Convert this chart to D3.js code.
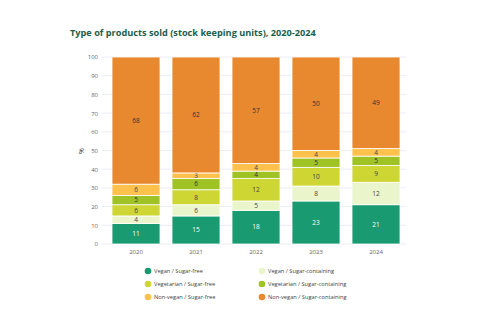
<!DOCTYPE html>
<html>
<head>
<script src="https://d3js.org/d3.v7.min.js"></script>
<style>
  body { margin: 0; background: #fff; }
  svg { display: block; font-family: "Open Sans", sans-serif; }
</style>
</head>
<body>
<div id="chart"></div>
<script>
// data
var years = ["2020", "2021", "2022", "2023", "2024"];
var seriesNames = ["Vegan / Sugar-free", "Vegan / Sugar-containing", "Vegetarian / Sugar-free",
  "Vegetarian / Sugar-containing", "Non-vegan / Sugar-free", "Non-vegan / Sugar-containing"];
var veganFree = [11, 15, 18, 23, 21];
var veganSugar = [4, 6, 5, 8, 12];
var vegetarianFree = [6, 8, 12, 10, 9];
var vegetarianSugar = [5, 6, 4, 5, 5];
var nonveganFree = [6, 3, 4, 4, 4];
var nonveganSugar = [68, 62, 57, 50, 49];
var yTicks = [0, 10, 20, 30, 40, 50, 60, 70, 80, 90, 100];

var colors = ["#1a9a70", "#eaf5cc", "#ced634", "#9fc224", "#fec24c", "#e9892f"];
var textColors = ["#ffffff", "#444", "#444", "#333", "#444", "#333"];

var allSeries = [veganFree, veganSugar, vegetarianFree, vegetarianSugar, nonveganFree, nonveganSugar];

var rows = years.map(function(y, i) {
  var r = { year: y };
  seriesNames.forEach(function(s, k) { r[s] = allSeries[k][i]; });
  return r;
});

var W = 480, H = 332;
var svg = d3.select("#chart").append("svg").attr("width", W).attr("height", H);

var x = d3.scaleBand().domain(years).range([106, 406]).paddingInner(0.2).paddingOuter(0.1);
var y = d3.scaleLinear().domain([0, 100]).range([244, 57]);

// title
svg.append("text")
  .attr("x", 70).attr("y", 36)
  .style("font-size", "9.2px").style("font-weight", "bold")
  .style("fill", "#1b5e4c")
  .text("Type of products sold (stock keeping units), 2020-2024");

// gridlines
svg.append("g").selectAll("line").data(yTicks).enter().append("line")
  .attr("x1", 102).attr("x2", 406)
  .attr("y1", function(d) { return y(d); }).attr("y2", function(d) { return y(d); })
  .style("stroke", "#e9ecf5").style("stroke-width", 1);

// y axis
var yAxis = svg.append("g").attr("transform", "translate(102,0)")
  .call(d3.axisLeft(y).tickValues(yTicks).tickSize(0).tickPadding(4));
yAxis.select(".domain").remove();
yAxis.selectAll("text").style("font-size", "6px").style("fill", "#666").style("font-family", "Open Sans, sans-serif");

svg.append("text")
  .attr("transform", "translate(84,151) rotate(-90)")
  .style("text-anchor", "middle").style("font-size", "7px").style("fill", "#444")
  .text("%");

// x axis
var xAxis = svg.append("g").attr("transform", "translate(0,244)")
  .call(d3.axisBottom(x).tickSize(0).tickPadding(6));
xAxis.select(".domain").remove();
xAxis.selectAll("text").style("font-size", "6px").style("fill", "#666").style("font-family", "Open Sans, sans-serif");

// stacked bars
var stack = d3.stack().keys(seriesNames)(rows);

var layers = svg.append("g").selectAll("g").data(stack).enter().append("g")
  .style("fill", function(d, i) { return colors[i]; });

layers.selectAll("rect").data(function(d) { return d; }).enter().append("rect")
  .attr("x", function(d) { return x(d.data.year); })
  .attr("width", x.bandwidth())
  .attr("y", function(d) { return y(d[1]); })
  .attr("height", function(d) { return y(d[0]) - y(d[1]); })
  .style("stroke", "#fff").style("stroke-width", 0.8);

layers.each(function(layer, i) {
  d3.select(this).selectAll("text").data(layer).enter().append("text")
    .attr("x", function(d) { return x(d.data.year) + x.bandwidth() / 2; })
    .attr("y", function(d) { return (y(d[0]) + y(d[1])) / 2; })
    .attr("dy", "0.35em")
    .style("text-anchor", "middle").style("font-size", "6.5px")
    .style("fill", textColors[i])
    .text(function(d) { return d[1] - d[0]; });
});

// legend
var legend = svg.append("g").selectAll("g").data(seriesNames).enter().append("g")
  .attr("transform", function(d, i) {
    return "translate(" + (i % 2 === 0 ? 148 : 262) + "," + (271 + Math.floor(i / 2) * 13) + ")";
  });
legend.append("circle").attr("r", 3.3).style("fill", function(d, i) { return colors[i]; });
legend.append("text").attr("x", 6).attr("dy", "0.35em")
  .style("font-size", "5.7px").style("fill", "#444")
  .text(function(d) { return d; });
</script>
</body>
</html>
